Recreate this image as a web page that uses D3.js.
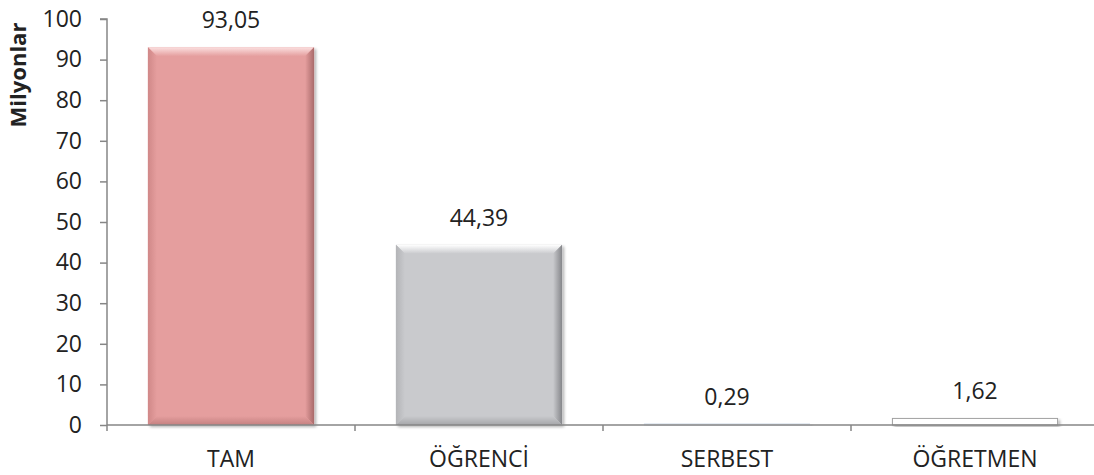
<!DOCTYPE html>
<html><head><meta charset="utf-8">
<script src="https://cdn.jsdelivr.net/npm/d3@7"></script>
<style>
html,body{margin:0;padding:0;background:#fff;}
svg text{font-family:"Open Sans","Liberation Sans",sans-serif;fill:#222;}
</style></head><body>
<svg id="c" width="1094" height="475"></svg>
<script>
const categories = ["TAM","ÖĞRENCİ","SERBEST","ÖĞRETMEN"];
const values = [93.05, 44.39, 0.29, 1.62];
const labels = ["93,05","44,39","0,29","1,62"];
const yTicks = [0,10,20,30,40,50,60,70,80,90,100];
const palettes = [
  {main:"#E59E9E", top:"#FBE0E0", left:"#D08888", right:"#A96A6A", bottom:"#C48080", stroke:"none"},
  {main:"#C9CACD", top:"#FFFFFF", left:"#B3B4B7", right:"#85868A", bottom:"#A5A6A9", stroke:"none"},
  {main:"#E4EBF3", top:"#F4F7FA", left:"#D7E0EA", right:"#C4CFDB", bottom:"#CFD9E3", stroke:"#DCE4EE"},
  {main:"#FFFFFF", top:"#FFFFFF", left:"#E6E6E6", right:"#9A9A9A", bottom:"#A8A8A8", stroke:"#A0A0A0"}
];

const svg = d3.select("#c");
const m = {l:107, r:-5};
const W = 1094;
const x = d3.scaleBand().domain(categories).range([m.l, W - m.r]).paddingInner(0.33).paddingOuter(0.165);
const y = d3.scaleLinear().domain([0,100]).range([425, 19]);
const FS = 23;

const defs = svg.append("defs");
const f = defs.append("filter").attr("id","sh").attr("x","-10%").attr("y","-10%").attr("width","130%").attr("height","130%");
f.append("feGaussianBlur").attr("in","SourceAlpha").attr("stdDeviation",1.5);
f.append("feOffset").attr("dx",2).attr("dy",1.5).attr("result","o");
f.append("feComponentTransfer").append("feFuncA").attr("type","linear").attr("slope",0.3);
const fm = f.append("feMerge"); fm.append("feMergeNode"); fm.append("feMergeNode").attr("in","SourceGraphic");

function grad(id, c1, c2, x1,y1,x2,y2){
  const g = defs.append("linearGradient").attr("id",id).attr("x1",x1).attr("y1",y1).attr("x2",x2).attr("y2",y2);
  g.append("stop").attr("offset","0%").attr("stop-color",c1);
  g.append("stop").attr("offset","100%").attr("stop-color",c2);
  return `url(#${id})`;
}

// bars
const bars = svg.append("g");
categories.forEach((c,i)=>{
  const p = palettes[i];
  const x0 = x(c), x1 = x(c)+x.bandwidth();
  const y0 = y(values[i]), y1 = y(0);
  const h = y1 - y0;
  const g = bars.append("g").attr("filter","url(#sh)");
  if (h > 12) {
    const b = 9;
    const gt = grad("gt"+i, p.top, p.main, 0,0,0,1);
    const gl = grad("gl"+i, p.left, p.main, 0,0,1,0);
    const gr = grad("gr"+i, p.main, p.right, 0,0,1,0);
    const gb = grad("gb"+i, p.main, p.bottom, 0,0,0,1);
    g.append("rect").attr("x",x0).attr("y",y0).attr("width",x1-x0).attr("height",h).attr("fill",p.main);
    g.append("polygon").attr("points",[[x0,y0],[x1,y0],[x1-b,y0+b],[x0+b,y0+b]].join(" ")).attr("fill",gt);
    g.append("polygon").attr("points",[[x0,y0],[x0+b,y0+b],[x0+b,y1-b],[x0,y1]].join(" ")).attr("fill",gl);
    g.append("polygon").attr("points",[[x1,y0],[x1,y1],[x1-b,y1-b],[x1-b,y0+b]].join(" ")).attr("fill",gr);
    g.append("polygon").attr("points",[[x0,y1],[x1,y1],[x1-b,y1-b],[x0+b,y1-b]].join(" ")).attr("fill",gb);
  } else {
    g.append("rect").attr("x",x0+0.5).attr("y",y0).attr("width",x1-x0-1).attr("height",Math.max(h,1))
      .attr("fill",p.main).attr("stroke",p.stroke).attr("stroke-width",1);
  }
  svg.append("text").attr("x",x0+(x1-x0)/2).attr("y",y0-19).attr("text-anchor","middle")
    .attr("font-size",FS).text(labels[i]);
});

// axes
const yAxis = d3.axisLeft(y).tickValues(yTicks).tickSize(7).tickPadding(18).tickFormat(d3.format("d"));
const ga = svg.append("g").attr("transform",`translate(${m.l},0)`).call(yAxis);
ga.selectAll("path,line").attr("stroke","#868686").attr("stroke-width",1.5);
ga.select(".domain").attr("d",`M-7,${y(100)}H0V${y(0)+6}`);
ga.selectAll("text").attr("font-size",FS).attr("fill","#222").style("font-family","'Open Sans','Liberation Sans',sans-serif");

const xg = svg.append("g").attr("transform",`translate(0,${y(0)})`);
xg.append("line").attr("x1",m.l).attr("x2",W).attr("y1",0).attr("y2",0).attr("stroke","#868686").attr("stroke-width",1.5);
const step = x.step();
categories.forEach((c,i)=>{
  const bx = x(c) - x.paddingInner()*step/2 + step;
  if (i < categories.length-1) xg.append("line").attr("x1",bx).attr("x2",bx).attr("y1",0).attr("y2",6).attr("stroke","#868686").attr("stroke-width",1.5);
  xg.append("text").attr("x",x(c)+x.bandwidth()/2).attr("y",42).attr("text-anchor","middle").attr("font-size",FS).text(c);
});

svg.append("text").attr("transform","translate(26,75) rotate(-90)").attr("text-anchor","middle")
  .attr("font-size",22).attr("font-weight","bold").attr("fill","#111").text("Milyonlar");
</script></body></html>
